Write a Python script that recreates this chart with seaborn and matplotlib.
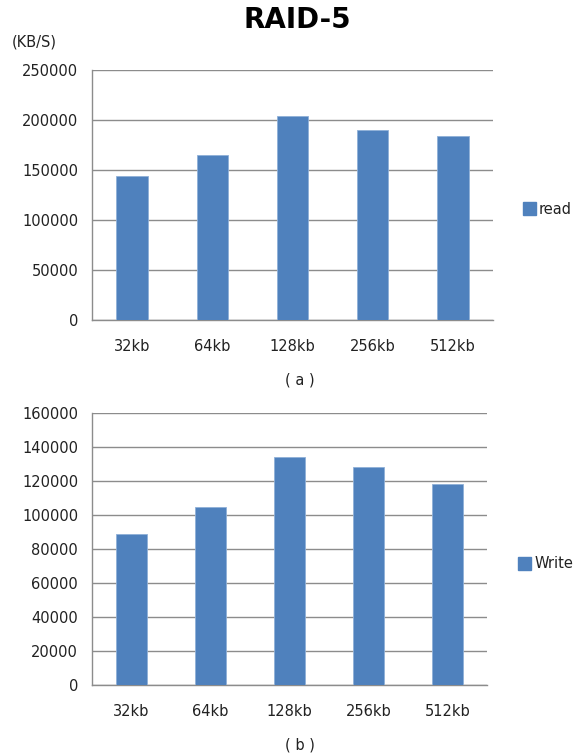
import matplotlib
matplotlib.use("Agg")
import matplotlib.pyplot as plt
import seaborn as sns
import pandas as pd
from matplotlib.patches import Patch

sns.set_style("white")
plt.rcParams['font.family'] = ['DejaVu Sans']

categories = ["32kb", "64kb", "128kb", "256kb", "512kb"]
read_values = [144000, 165000, 204000, 190000, 184000]
write_values = [89000, 105000, 134000, 128000, 118500]
read_ticks = [0, 50000, 100000, 150000, 200000, 250000]
write_ticks = [0, 20000, 40000, 60000, 80000, 100000, 120000, 140000, 160000]

BAR = "#4F81BD"
GRID = "#8C8C8C"
TXT = "#222222"
FS = 10.5

W, H = 587, 756
fig = plt.figure(figsize=(W / 100, H / 100), dpi=100)


def px_axes(left, top, right, bottom):
    return fig.add_axes([left / W, 1 - bottom / H, (right - left) / W, (bottom - top) / H])


def draw(ax, values, ticks, label):
    df = pd.DataFrame({"size": categories, "value": values, "series": label})
    sns.barplot(data=df, x="size", y="value", hue="series", palette=[BAR],
                saturation=1, width=0.39, ax=ax, legend=False,
                edgecolor="#8fb0d8", linewidth=0.6, zorder=3)
    ax.set_xlim(-0.5, len(categories) - 0.5)
    ax.set_ylim(ticks[0], ticks[-1])
    ax.set_yticks(ticks)
    ax.set_yticklabels([str(t) for t in ticks], fontsize=FS, color=TXT)
    ax.yaxis.grid(True, color=GRID, linewidth=1.0, zorder=0)
    ax.set_axisbelow(True)
    ax.set_xticks([i - 0.5 for i in range(len(categories) + 1)])
    ax.set_xticklabels([])
    ax.set_xticks(range(len(categories)), minor=True)
    ax.set_xticklabels(categories, minor=True, fontsize=FS, color=TXT)
    ax.tick_params(axis="x", which="major", length=6, color=GRID, width=1, direction="out")
    ax.tick_params(axis="x", which="minor", length=0, pad=14)
    ax.tick_params(axis="y", length=6, color=GRID, width=1, direction="out", pad=4)
    ax.set_xlabel("")
    ax.set_ylabel("")
    for s in ["top", "right"]:
        ax.spines[s].set_visible(False)
    for s in ["left", "bottom"]:
        ax.spines[s].set_color(GRID)
        ax.spines[s].set_linewidth(1.0)


ax1 = px_axes(92, 70, 493, 320)
draw(ax1, read_values, read_ticks, "read")
ax2 = px_axes(92, 413, 487, 685)
draw(ax2, write_values, write_ticks, "Write")

fig.text(297 / W, 1 - 20 / H, "RAID-5", ha="center", va="center", fontsize=20,
         fontweight="bold", color="black")
fig.text(12 / W, 1 - 42 / H, "(KB/S)", ha="left", va="center", fontsize=FS, color=TXT)
fig.text(300 / W, 1 - 380 / H, "( a )", ha="center", va="center", fontsize=FS, color=TXT)
fig.text(300 / W, 1 - 745 / H, "( b )", ha="center", va="center", fontsize=FS, color=TXT)

for ax, lab, x, y in [(ax1, "read", 523, 209), (ax2, "Write", 518, 564)]:
    fig.legend(handles=[Patch(facecolor=BAR, edgecolor=BAR)], labels=[lab],
               loc="center left", bbox_to_anchor=(x / W, 1 - y / H), frameon=False,
               handlelength=0.9, handleheight=0.9, handletextpad=0.2, fontsize=FS,
               borderpad=0, borderaxespad=0, labelcolor=TXT)

fig.savefig("out.png", dpi=100, facecolor="white")
